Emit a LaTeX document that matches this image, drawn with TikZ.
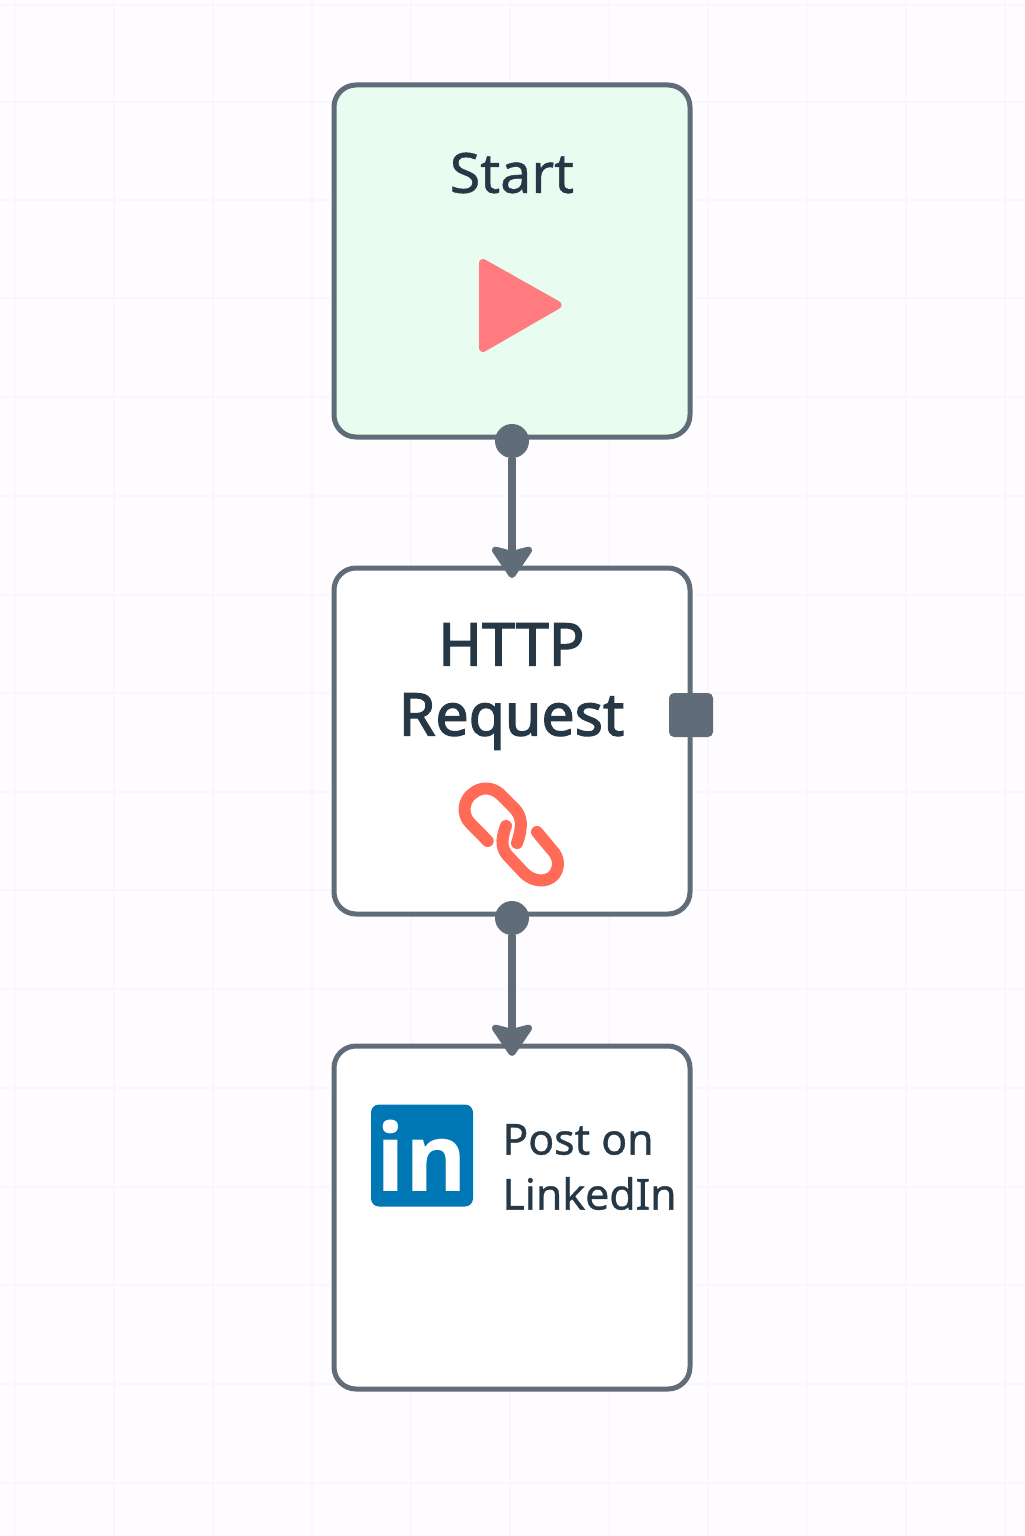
\documentclass[tikz,border=0pt]{standalone}
\usepackage{fontspec}
\setmainfont{Noto Sans}
\newfontfamily\lightbold[FakeBold=0.8]{Noto Sans}
\newfontfamily\titlefont[FakeBold=2.2]{Noto Sans}
\newfontfamily\logofont{Open Sans}
\usetikzlibrary{arrows.meta,positioning}
\definecolor{pagebg}{RGB}{254,252,254}
\definecolor{gridline}{RGB}{249,247,252}
\definecolor{boxgreen}{RGB}{232,252,240}
\definecolor{edgegray}{RGB}{96,108,120}
\definecolor{inktext}{RGB}{38,56,69}
\definecolor{playred}{RGB}{255,123,128}
\definecolor{linkred}{RGB}{255,107,87}
\definecolor{linkedinblue}{RGB}{0,119,181}

\begin{document}
\begin{tikzpicture}[
    x=0.5pt,y=-0.5pt,
    node distance=65.5pt,
    card/.style={rectangle,rounded corners=11pt,draw=edgegray,line width=2.5pt,
                  fill=white,minimum width=178pt,outer sep=0pt,inner sep=0pt},
    title/.style={align=center,text=inktext,inner sep=0pt},
    port/.style={circle,fill=edgegray,minimum size=17pt,inner sep=0pt},
    outlet/.style={rectangle,rounded corners=2.5pt,fill=edgegray,minimum size=22pt,inner sep=0pt},
    arrow/.style={-{Stealth[length=18pt,width=24pt,inset=3pt,round]},line width=3.6pt,
                  edgegray,shorten >=-5pt},
    linkstroke/.style={draw=linkred,line width=6pt,line cap=round,line join=round}
]
    \fill[pagebg] (0,0) rectangle (1024,1536);
    \useasboundingbox (0,0) rectangle (1024,1536);
    \foreach \gx in {15,114,213,312,411,510,609,708,807,906,1005}
        \draw[gridline,line width=0.8pt] (\gx,0)--(\gx,1536);
    \foreach \gy in {5,102,200,298,397,496,595,693,792,890,989,1088,1187,1285,1384,1483}
        \draw[gridline,line width=0.8pt] (0,\gy)--(1024,\gy);

    \node[card,fill=boxgreen,minimum height=176pt] (start) at (512,261) {};
    \node[card,minimum height=173pt,below=of start] (http) {};
    \node[card,minimum height=171.5pt,below=66pt of http] (post) {};

    \node[title,font=\fontsize{27.7}{33}\lightbold] (starttext) at (512,173) {Start};
    \node[title,font=\fontsize{29.5}{35}\titlefont] (httptext) at (511.5,686.5) {HTTP\\Request};
    \node[title,align=left,anchor=west,font=\fontsize{21.4}{27.5}\lightbold] (posttext) at (502,1167) {Post on\\LinkedIn};

    \path[fill=playred,draw=playred,line width=4pt,line join=round]
        (483,263)--(557.5,305)--(483,348)--cycle;

    \draw[linkstroke] (487.7,841)--(470,823) .. controls (462,815) and (463,801) .. (472,794)
        .. controls (481,786) and (493,787) .. (501,795)--(514,808)
        .. controls (522,816) and (523,826) .. (517,843);
    \draw[linkstroke] (506,826) .. controls (500,842) and (502,850) .. (509,857)--(524,873)
        .. controls (533,882) and (547,883) .. (554,875)
        .. controls (560,867) and (559,857) .. (552,850)--(537,832);

    \node[rectangle,rounded corners=4pt,fill=linkedinblue,minimum size=51pt,inner sep=0pt] (logo) at (422,1155.5) {};
    \node[inner sep=0pt,text=white,font=\fontsize{47}{47}\logofont\bfseries] (logotext) at ([yshift=0pt]logo.center) {in};

    \node[port] (startport) at (512,441) {};
    \node[port] (httpport) at (512,918) {};
    \node[outlet] (httpout) at ([xshift=0.5pt,yshift=13pt]http.east) {};

    \draw[arrow] (startport)--(http.north);
    \draw[arrow] (httpport)--(post.north);
\end{tikzpicture}
\end{document}
